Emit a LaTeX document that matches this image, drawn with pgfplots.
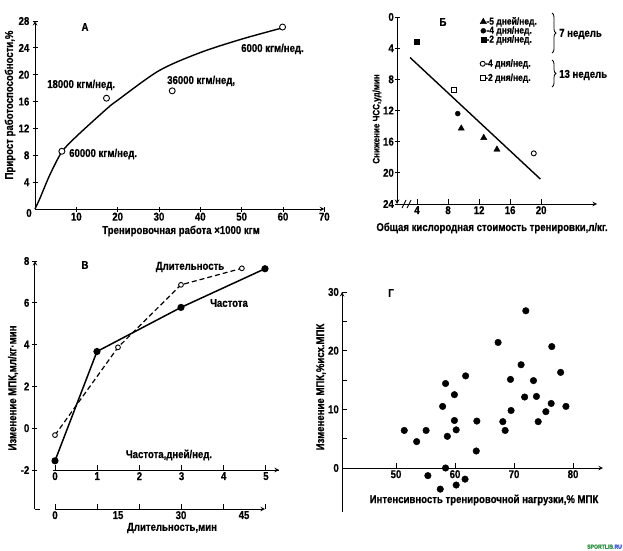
\documentclass[border=0pt]{standalone}
\usepackage{fontspec}
\setmainfont{Liberation Sans}[FakeStretch=0.85, BoldFeatures={FakeBold=0.6}]
\usepackage{pgfplots}
\pgfplotsset{compat=1.18}
\usetikzlibrary{decorations.pathreplacing}
\definecolor{wmgreen}{RGB}{40,140,60}
\definecolor{wmblue}{RGB}{40,70,200}
\newcommand{\fs}{\bfseries\fontsize{11.3}{13}\selectfont}
\pgfplotsset{
  base/.style={scale only axis, clip=false,
    axis line style={-, line width=1pt},
    every tick/.style={black, line width=0.9pt},
    major tick length=5pt,
    /pgf/number format/assume math mode=true,
    tick label style={font=\fs},
    xticklabel style={inner sep=0pt, anchor=north, yshift=-2pt},
    yticklabel style={inner sep=0pt, anchor=east, xshift=-3pt},
  },
  lg/.style={legend cell align=left,
    legend image code/.code={\draw[##1] plot coordinates {(0pt,0pt)};},
    legend style={draw=none, fill=none, inner xsep=0pt, inner ysep=0pt, anchor=north west,
      font=\bfseries\fontsize{10}{11}\selectfont, nodes={inner sep=0pt},
      /tikz/every even column/.append style={column sep=2pt}}},
}
\tikzset{lab/.style={inner sep=0pt, font=\fs}}
\begin{document}
\fs
\begin{tikzpicture}[x=1pt,y=1pt]
\useasboundingbox (0,0) rectangle (623,550);

% ================= A
\begin{axis}[base, at={(35pt,341pt)}, anchor=south west,
  width=289.3pt, height=188pt, xmin=0, xmax=70, ymin=0, ymax=28,
  axis x line=bottom, axis y line=left,
  xtick={10,20,...,70}, ytick={4,8,...,28}, tick align=center,
  xticklabel style={yshift=1pt}]
\addplot[smooth, line width=1.4pt] coordinates {(0,0)(1.2,1.6)(3.6,5.1)(6.5,8.5)(10,10.8)(17.5,15)(20,16.2)(30,20.6)(40,23.3)(50,25.3)(60,27)};
\addplot[only marks, mark=*, mark size=3pt, mark options={fill=white, draw=black, line width=0.9pt}] coordinates {(6.5,8.6)(17.3,16.5)(33.2,17.6)(59.9,27.1)};
\end{axis}
\node[lab] at (29,337) {0};
\node[lab] at (85,523) {А};
\node[lab, anchor=west] at (47,465) {18000 кгм/нед.};
\node[lab, anchor=west] at (167,469) {36000 кгм/нед,};
\node[lab, anchor=west] at (241,501) {6000 кгм/нед.};
\node[lab, anchor=west] at (69,396) {60000 кгм/нед.};
\node[lab, rotate=90] at (10,445) {Прирост работоспособности,\%};
\node[lab] at (181,319) {Тренировочная работа ×1000 кгм};

% ================= Б
\begin{axis}[base, lg, at={(497pt,439.5pt)}, anchor=center,
  width=200pt, height=187pt, xmin=1.42, xmax=27.2, ymin=0, ymax=24, y dir=reverse,
  axis x line=bottom, axis y line=left,
  xtick={4,8,...,20}, ytick={0,4,...,24}, tick align=inside,
  every y tick/.append style={xshift=-2.5pt},
  legend style={at={(axis description cs:0.415,1.0)}, row sep=0pt}]
\addplot[only marks, mark=triangle*, mark size=3.6pt] coordinates {(9.7,14.3)(12.6,15.5)(14.3,17.0)};
\addlegendentry{-5 дней/нед.}
\addplot[only marks, mark=*, mark size=2.5pt] coordinates {(9.25,12.4)};
\addlegendentry{-4 дня/нед.}
\addplot[only marks, mark=square*, mark size=2.5pt] coordinates {(4,3.2)};
\addlegendentry{-2 дня/нед.}
\addplot[forget plot, only marks, mark=*, mark size=2.5pt, mark options={fill=white, line width=0.9pt}] coordinates {(19.05,17.5)};
\addplot[forget plot, only marks, mark=square*, mark size=2.5pt, mark options={fill=white, line width=0.9pt}] coordinates {(8.7,9.4)};
\addplot[forget plot, line width=1.4pt] coordinates {(3.1,5.2)(19.9,20.8)};
\end{axis}
\begin{axis}[base, lg, at={(497pt,439.5pt)}, anchor=center,
  width=200pt, height=187pt, xmin=1.42, xmax=27.2, ymin=0, ymax=24, hide axis,
  legend style={at={(axis description cs:0.415,0.775)}, row sep=5.5pt}]
\addlegendimage{only marks, mark=*, mark size=2.5pt, mark options={fill=white, line width=0.9pt}}
\addlegendentry{-4 дня/нед.}
\addlegendimage{only marks, mark=square*, mark size=2.5pt, mark options={fill=white, line width=0.9pt}}
\addlegendentry{-2 дня/нед.}
\end{axis}
\draw[line width=0.9pt] (402,342) -- (406,350);
\draw[line width=0.9pt] (407,342) -- (411,350);
\draw[line width=0.8pt, decorate, decoration={brace, amplitude=4pt}] (552,537) -- (552,497);
\draw[line width=0.8pt, decorate, decoration={brace, amplitude=4pt}] (552,490) -- (552,463);
\node[lab, anchor=west] at (559,516) {7 недель};
\node[lab, anchor=west] at (559,475) {13 недель};
\node[lab] at (443,528) {Б};
\node[lab, rotate=90, font=\bfseries\fontsize{9.5}{11}\selectfont] at (377,431) {Снижение ЧСС,уд/мин};
\node[lab] at (492,322) {Общая кислородная стоимость тренировки,л/кг.};

% ================= В
\begin{axis}[base, at={(35pt,41pt)}, anchor=south west,
  width=243pt, height=248pt, xmin=-0.476, xmax=5.31, ymin=-3.866, ymax=8,
  axis y line=left, axis x line=none, ytick={-2,0,...,8}, tick align=center]
\addplot[line width=1.5pt, mark=*, mark size=2.8pt] coordinates {(0,-1.56)(1,3.67)(3,5.78)(5,7.63)};
\end{axis}
\begin{axis}[base, at={(35pt,41pt)}, anchor=south west,
  width=243pt, height=248pt, xmin=-4.76, xmax=53.1, ymin=-3.866, ymax=8, hide axis]
\addplot[line width=1.2pt, dash pattern=on 5pt off 3pt, mark=*, mark size=2.4pt, mark options={solid, fill=white, line width=0.9pt}] coordinates {(0,-0.33)(15,3.87)(30,6.86)(44.5,7.65)};
\end{axis}
\begin{axis}[base, at={(53pt,80pt)}, anchor=south west,
  width=226pt, height=10pt, xmin=-0.048, xmax=5.31, ymin=0, ymax=1,
  axis x line=bottom, axis y line=none, xtick={0,1,...,5}, tick align=inside]
\addplot[draw=none] coordinates {(0,0.5)};
\end{axis}
\begin{axis}[base, at={(55pt,41pt)}, anchor=south west,
  width=210pt, height=10pt, xmin=0, xmax=50, ymin=0, ymax=1,
  axis x line=bottom, axis y line=none, xtick={0,10,...,50}, xticklabels={,,,,,},
  extra x ticks={0,15,30,45}, extra x tick labels={0,15,30,45},
  extra x tick style={major tick length=0pt}, tick align=inside]
\addplot[draw=none] coordinates {(0,0.5)};
\end{axis}
\draw[line width=1pt] (53,80) -- (279,80);
\draw[line width=0.9pt] (35,41) -- (40,41);
\node[lab] at (85,285) {В};
\node[lab] at (190,283) {Длительность};
\node[lab] at (229,247) {Частота};
\node[lab] at (169,95) {Частота,дней/нед.};
\node[lab] at (172,22) {Длительность,мин};
\node[lab, rotate=90] at (13,162) {Изменение МПК,мл/кг·мин};

% ================= Г
\begin{axis}[base, at={(342pt,38pt)}, anchor=south west,
  width=261pt, height=220pt, xmin=40.85, xmax=85.08, ymin=-7.5, ymax=30,
  axis x line=middle, axis y line=left,
  xtick={50,60,70,80}, ytick={0,5,...,30}, yticklabels={0,,10,,20,,30},
  tick align=inside, hide obscured x ticks=false, hide obscured y ticks=false]
\addplot[only marks, mark=*, mark size=3.3pt] coordinates {
(51.4,6.4)(53.5,4.5)(55.1,6.4)(55.4,-1.3)(57.5,-3.6)(57.9,10.5)(58.4,14.4)(58.4,0)
(58.7,5.4)(59.9,12.5)(59.9,8.1)(60.2,6.5)(60.2,-2.9)(61.7,-1.9)(61.8,15.7)(63.6,2.9)
(63.7,8.0)(67.3,21.4)(68.1,7.9)(68.5,6.4)(69.4,15.1)(69.5,9.8)(71.2,17.6)(71.8,12.1)
(72.0,26.8)(73.3,14.9)(73.8,12.2)(74.1,7.9)(75.4,9.6)(76.3,11.0)(76.4,20.7)(77.9,16.3)(78.8,10.5)};
\end{axis}
\node[lab] at (391,257) {Г};
\node[lab, rotate=90] at (321,163) {Изменение МПК,\%исх.МПК};
\node[lab] at (484,50) {Интенсивность тренировочной нагрузки,\% МПК};
\node[anchor=south east, inner sep=0pt, font=\bfseries\fontsize{6}{7}\selectfont] at (622,1) {\textcolor{wmgreen}{SPORTLIB.}\textcolor{wmblue}{RU}};
\end{tikzpicture}
\end{document}
